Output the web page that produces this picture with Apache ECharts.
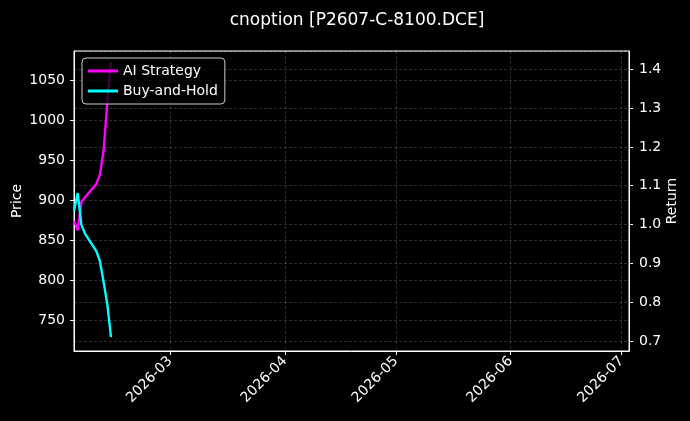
<!DOCTYPE html>
<html>
<head>
<meta charset="utf-8">
<script src="https://cdn.jsdelivr.net/npm/echarts@6/dist/echarts.min.js"></script>
<style>
html, body { margin: 0; padding: 0; background: #000; }
#chart { width: 690px; height: 421px; }
</style>
</head>
<body>
<div id="chart"></div>
<script>
// trading days shown on the chart
var dates = ['2026-02-03', '2026-02-04', '2026-02-05', '2026-02-06', '2026-02-09',
             '2026-02-10', '2026-02-11', '2026-02-12', '2026-02-13'];
var aiReturn = [1.01, 0.985, 1.058, 1.07, 1.104, 1.128, 1.19, 1.315, 1.418];
var holdReturn = [1.035, 1.081, 0.999, 0.976, 0.932, 0.906, 0.852, 0.795, 0.71];

var xStart = '2026-02-03';
var xEnd = '2026-07-03';

function toTime(s) {
    var p = s.split('-');
    return new Date(+p[0], +p[1] - 1, +p[2]).getTime();
}
function pairs(vals) {
    return vals.map(function (v, i) { return [toTime(dates[i]), v]; });
}

var gridLine = { color: 'rgba(255,255,255,0.22)', width: 0.8, type: [3, 2] };
var font = 'DejaVu Sans';

var chart = echarts.init(document.getElementById('chart'));
chart.setOption({
    backgroundColor: '#000',
    animation: false,
    textStyle: { fontFamily: font },
    title: {
        text: 'cnoption [P2607-C-8100.DCE]',
        left: 352,
        textAlign: 'center',
        top: 7,
        textStyle: { color: '#fff', fontSize: 17, fontWeight: 'normal', fontFamily: font }
    },
    legend: {
        orient: 'vertical',
        left: 82,
        top: 58,
        padding: [6, 7, 6, 6],
        itemGap: 6,
        itemWidth: 30,
        itemHeight: 3,
        icon: 'rect',
        backgroundColor: 'rgba(0,0,0,0.75)',
        borderColor: '#cccccc',
        borderWidth: 1,
        borderRadius: 4,
        textStyle: { color: '#fff', fontSize: 14, fontFamily: font },
        data: ['AI Strategy', 'Buy-and-Hold']
    },
    grid: {
        left: 74, right: 61, top: 51, bottom: 70,
        containLabel: false,
        outerBoundsMode: 'none',
        show: true,
        borderColor: '#fff',
        borderWidth: 1,
        backgroundColor: 'transparent'
    },
    xAxis: {
        type: 'time',
        min: toTime(xStart),
        max: toTime(xEnd),
        splitNumber: 5,
        minInterval: 28 * 24 * 3600 * 1000,
        axisLine: { lineStyle: { color: '#fff' } },
        axisTick: { length: 4, lineStyle: { color: '#fff' } },
        axisLabel: {
            color: '#fff',
            fontSize: 14,
            rotate: 45,
            margin: 8,
            hideOverlap: false,
            formatter: function (v) {
                var d = new Date(v);
                if (d.getDate() !== 1) return '';
                var m = d.getMonth() + 1;
                return d.getFullYear() + '-' + (m < 10 ? '0' + m : m);
            }
        },
        splitLine: { show: true, lineStyle: gridLine }
    },
    yAxis: [{
        type: 'value',
        name: 'Price',
        nameLocation: 'middle',
        nameRotate: 90,
        nameGap: 50,
        nameMoveOverlap: false,
        nameTextStyle: { color: '#fff', fontSize: 14, fontFamily: font },
        min: 711,
        max: 1087,
        minInterval: 50,
        maxInterval: 50,
        position: 'left',
        axisLine: { show: true, lineStyle: { color: '#fff' } },
        axisTick: { show: true, length: 4, lineStyle: { color: '#fff' } },
        axisLabel: {
            color: '#fff', fontSize: 14, margin: 9, showMinLabel: false, showMaxLabel: false,
            formatter: function (v) { return String(v); }
        },
        splitLine: { show: true, lineStyle: gridLine }
    }, {
        type: 'value',
        name: 'Return',
        nameLocation: 'middle',
        nameRotate: 90,
        nameGap: 36,
        nameMoveOverlap: false,
        nameTextStyle: { color: '#fff', fontSize: 14, fontFamily: font },
        min: 0.674,
        max: 1.447,
        minInterval: 0.1,
        maxInterval: 0.1,
        position: 'right',
        alignTicks: false,
        axisLine: { show: true, lineStyle: { color: '#fff' } },
        axisTick: { show: true, length: 4, lineStyle: { color: '#fff' } },
        axisLabel: {
            color: '#fff', fontSize: 14, margin: 10, showMinLabel: false, showMaxLabel: false,
            formatter: function (v) { return v.toFixed(1); }
        },
        splitLine: { show: true, lineStyle: gridLine }
    }],
    series: [{
        name: 'AI Strategy',
        type: 'line',
        yAxisIndex: 1,
        showSymbol: false,
        color: '#ff00ff',
        lineStyle: { width: 2.4 },
        data: pairs(aiReturn)
    }, {
        name: 'Buy-and-Hold',
        type: 'line',
        yAxisIndex: 1,
        showSymbol: false,
        color: '#00ffff',
        lineStyle: { width: 2.4 },
        data: pairs(holdReturn)
    }]
});
</script>
</body>
</html>
